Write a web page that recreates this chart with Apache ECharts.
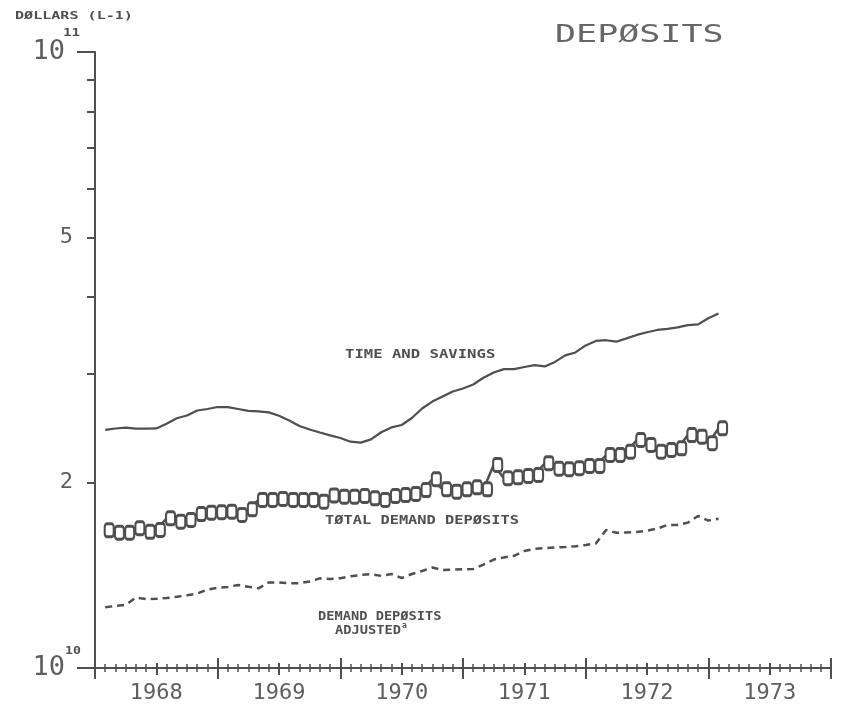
<!DOCTYPE html>
<html>
<head>
<meta charset="utf-8">
<script src="https://cdn.jsdelivr.net/npm/echarts@6/dist/echarts.min.js"></script>
<style>
  html, body { margin: 0; padding: 0; background: #ffffff; }
  #chart { width: 841px; height: 709px; }
</style>
</head>
<body>
<div id="chart"></div>
<script>
// Monthly observations, Jan 1968 – Jan 1973 (billions of dollars)
const months = [
  '1968-01','1968-02','1968-03','1968-04','1968-05','1968-06','1968-07','1968-08','1968-09','1968-10','1968-11','1968-12',
  '1969-01','1969-02','1969-03','1969-04','1969-05','1969-06','1969-07','1969-08','1969-09','1969-10','1969-11','1969-12',
  '1970-01','1970-02','1970-03','1970-04','1970-05','1970-06','1970-07','1970-08','1970-09','1970-10','1970-11','1970-12',
  '1971-01','1971-02','1971-03','1971-04','1971-05','1971-06','1971-07','1971-08','1971-09','1971-10','1971-11','1971-12',
  '1972-01','1972-02','1972-03','1972-04','1972-05','1972-06','1972-07','1972-08','1972-09','1972-10','1972-11','1972-12',
  '1973-01'
];
const timeSavings = [
  24.35,24.48,24.56,24.46,24.46,24.49,24.91,25.43,25.70,26.18,26.33,26.53,
  26.51,26.33,26.15,26.09,26.00,25.67,25.22,24.71,24.39,24.12,23.86,23.62,
  23.30,23.22,23.50,24.14,24.58,24.80,25.46,26.38,27.07,27.59,28.11,28.43,
  28.86,29.59,30.18,30.56,30.56,30.81,31.02,30.87,31.40,32.17,32.53,33.39,
  33.96,34.05,33.86,34.28,34.73,35.08,35.38,35.53,35.72,36.02,36.12,36.96,
  37.63
];
const totalDemand = [
  16.73,16.58,16.58,16.86,16.64,16.75,17.50,17.28,17.39,17.78,17.87,17.90,
  17.94,17.72,18.10,18.74,18.74,18.81,18.74,18.74,18.74,18.62,19.06,18.97,
  18.97,19.02,18.86,18.74,19.02,19.09,19.17,19.45,20.25,19.50,19.33,19.50,
  19.65,19.50,21.36,20.33,20.40,20.50,20.58,21.50,21.06,21.02,21.10,21.28,
  21.28,22.17,22.17,22.45,23.45,23.02,22.45,22.59,22.73,23.89,23.74,23.17,
  24.50
];
const demandAdjusted = [
  12.55,12.61,12.66,13.01,12.94,12.95,12.99,13.05,13.12,13.21,13.41,13.49,
  13.54,13.64,13.55,13.47,13.77,13.77,13.72,13.73,13.82,13.98,13.95,13.99,
  14.09,14.16,14.20,14.11,14.21,14.00,14.21,14.37,14.56,14.42,14.45,14.46,
  14.48,14.72,15.00,15.12,15.21,15.49,15.61,15.66,15.69,15.72,15.76,15.84,
  15.93,16.75,16.58,16.59,16.63,16.70,16.84,17.07,17.07,17.22,17.65,17.35,
  17.47
];
const yearLabels = ['1968','1969','1970','1971','1972','1973'];
const yMinorTicks = [20,30,40,50,60,70,80,90];
const yMinorLabels = [20,50];

const START_YEAR = 1968;
// month position (end of month) measured in months from Jan 1 1968
function monthPos(s) {
  const [y, m] = s.split('-').map(Number);
  return (y - START_YEAR) * 12 + m;
}
function pairs(vals) { return months.map((d, i) => [monthPos(d), vals[i]]); }

const INK = '#4f4f4f';
const LIGHT = '#5e5e5e';
const MONO = '"DejaVu Sans Mono", "Liberation Mono", monospace';

const chart = echarts.init(document.getElementById('chart'), null, { renderer: 'canvas' });

const yearMid = yearLabels.map((y, i) => i * 12 + 6);

function tickOnlyAxis(inside, len, values) {
  return {
    type: 'value', min: 0, max: 72, interval: 12, position: 'bottom',
    axisLine: { show: false },
    axisTick: Object.assign({ show: true, inside: inside, length: len, lineStyle: { color: INK, width: 2 } },
      values ? { customValues: values } : {}),
    minorTick: { show: !values, splitNumber: 12, length: 4, lineStyle: { color: INK, width: 1.5 } },
    splitLine: { show: false },
    axisLabel: { show: false }
  };
}

const option = {
  animation: false,
  backgroundColor: '#ffffff',
  grid: { left: 95, right: 10, top: 52, bottom: 41, containLabel: false },
  xAxis: [
    {
      type: 'value', min: 0, max: 72, interval: 12,
      axisLine: { show: true, lineStyle: { color: INK, width: 2 } },
      axisTick: { show: true, length: 11, lineStyle: { color: INK, width: 2 } },
      minorTick: { show: true, splitNumber: 12, length: 4, lineStyle: { color: INK, width: 1.5 } },
      splitLine: { show: false },
      axisLabel: {
        customValues: yearMid,
        formatter: v => yearLabels[Math.round((v - 6) / 12)],
        fontFamily: MONO, fontSize: 22, color: LIGHT, margin: 14
      }
    },
    tickOnlyAxis(true, 10, null),
    tickOnlyAxis(false, 7, yearMid),
    tickOnlyAxis(true, 5, yearMid)
  ],
  yAxis: [
    {
      type: 'log', logBase: 10, min: 10, max: 100, position: 'left',
      axisLine: { show: true, lineStyle: { color: INK, width: 2 } },
      axisTick: { show: true, customValues: [10, 100], length: 18, lineStyle: { color: INK, width: 2 } },
      minorTick: { show: false },
      splitLine: { show: false },
      axisLabel: {
        customValues: [10, 100],
        formatter: () => '{b|10}',
        margin: 22,
        rich: { b: { fontFamily: MONO, fontSize: 27, color: LIGHT, padding: [0, 8, 0, 0] } }
      }
    },
    {
      type: 'log', logBase: 10, min: 10, max: 100, position: 'left',
      axisLine: { show: false },
      axisTick: { show: true, customValues: yMinorTicks, length: 8, lineStyle: { color: INK, width: 2 } },
      minorTick: { show: false },
      splitLine: { show: false },
      axisLabel: {
        customValues: yMinorLabels,
        formatter: v => String(v / 10),
        fontFamily: MONO, fontSize: 22, color: LIGHT, margin: 22
      }
    }
  ],
  series: [
    {
      name: 'TIME AND SAVINGS', type: 'line', xAxisIndex: 0, yAxisIndex: 0,
      data: pairs(timeSavings), showSymbol: false,
      lineStyle: { color: INK, width: 2.2 }
    },
    {
      name: 'TOTAL DEMAND DEPOSITS', type: 'line', xAxisIndex: 0, yAxisIndex: 0,
      data: pairs(totalDemand), showSymbol: true, showAllSymbol: true,
      symbol: 'roundRect', symbolSize: [9, 13], symbolOffset: [4, 0],
      itemStyle: { color: '#ffffff', borderColor: INK, borderWidth: 2.5 },
      lineStyle: { color: INK, width: 2.5 }
    },
    {
      name: 'DEMAND DEPOSITS ADJUSTED', type: 'line', xAxisIndex: 0, yAxisIndex: 0,
      data: pairs(demandAdjusted), showSymbol: false,
      lineStyle: { color: INK, width: 2.5, type: [7, 5] }
    }
  ],
  graphic: [
    { type: 'text', x: 15, y: 16, scaleX: 1.37,
      style: { text: 'DØLLARS (L-1)', font: 'bold 11px ' + MONO, fill: INK, verticalAlign: 'middle', align: 'left' } },
    { type: 'text', x: 63, y: 33, scaleX: 1.3,
      style: { text: '11', font: 'bold 11px ' + MONO, fill: INK, verticalAlign: 'middle', align: 'left' } },
    { type: 'text', x: 65, y: 651, scaleX: 1.2,
      style: { text: '10', font: 'bold 11px ' + MONO, fill: INK, verticalAlign: 'middle', align: 'left' } },
    { type: 'text', x: 555, y: 35, scaleX: 1.4,
      style: { text: 'DEPØSITS', font: '25px ' + MONO, fill: '#666666', verticalAlign: 'middle', align: 'left' } },
    { type: 'text', x: 345, y: 355, scaleX: 1.2,
      style: { text: 'TIME AND SAVINGS', font: 'bold 13px ' + MONO, fill: INK, verticalAlign: 'middle', align: 'left' } },
    { type: 'text', x: 325, y: 521, scaleX: 1.18,
      style: { text: 'TØTAL DEMAND DEPØSITS', font: 'bold 13px ' + MONO, fill: INK, verticalAlign: 'middle', align: 'left' } },
    { type: 'text', x: 318, y: 617, scaleX: 1.14,
      style: { text: 'DEMAND DEPØSITS', font: 'bold 12px ' + MONO, fill: INK, verticalAlign: 'middle', align: 'left' } },
    { type: 'text', x: 335, y: 631, scaleX: 1.14,
      style: { text: 'ADJUSTED', font: 'bold 12px ' + MONO, fill: INK, verticalAlign: 'middle', align: 'left' } },
    { type: 'text', x: 402, y: 626,
      style: { text: 'a', font: 'bold 8px ' + MONO, fill: INK, verticalAlign: 'middle', align: 'left' } }
  ]
};
chart.setOption(option);
</script>
</body>
</html>
